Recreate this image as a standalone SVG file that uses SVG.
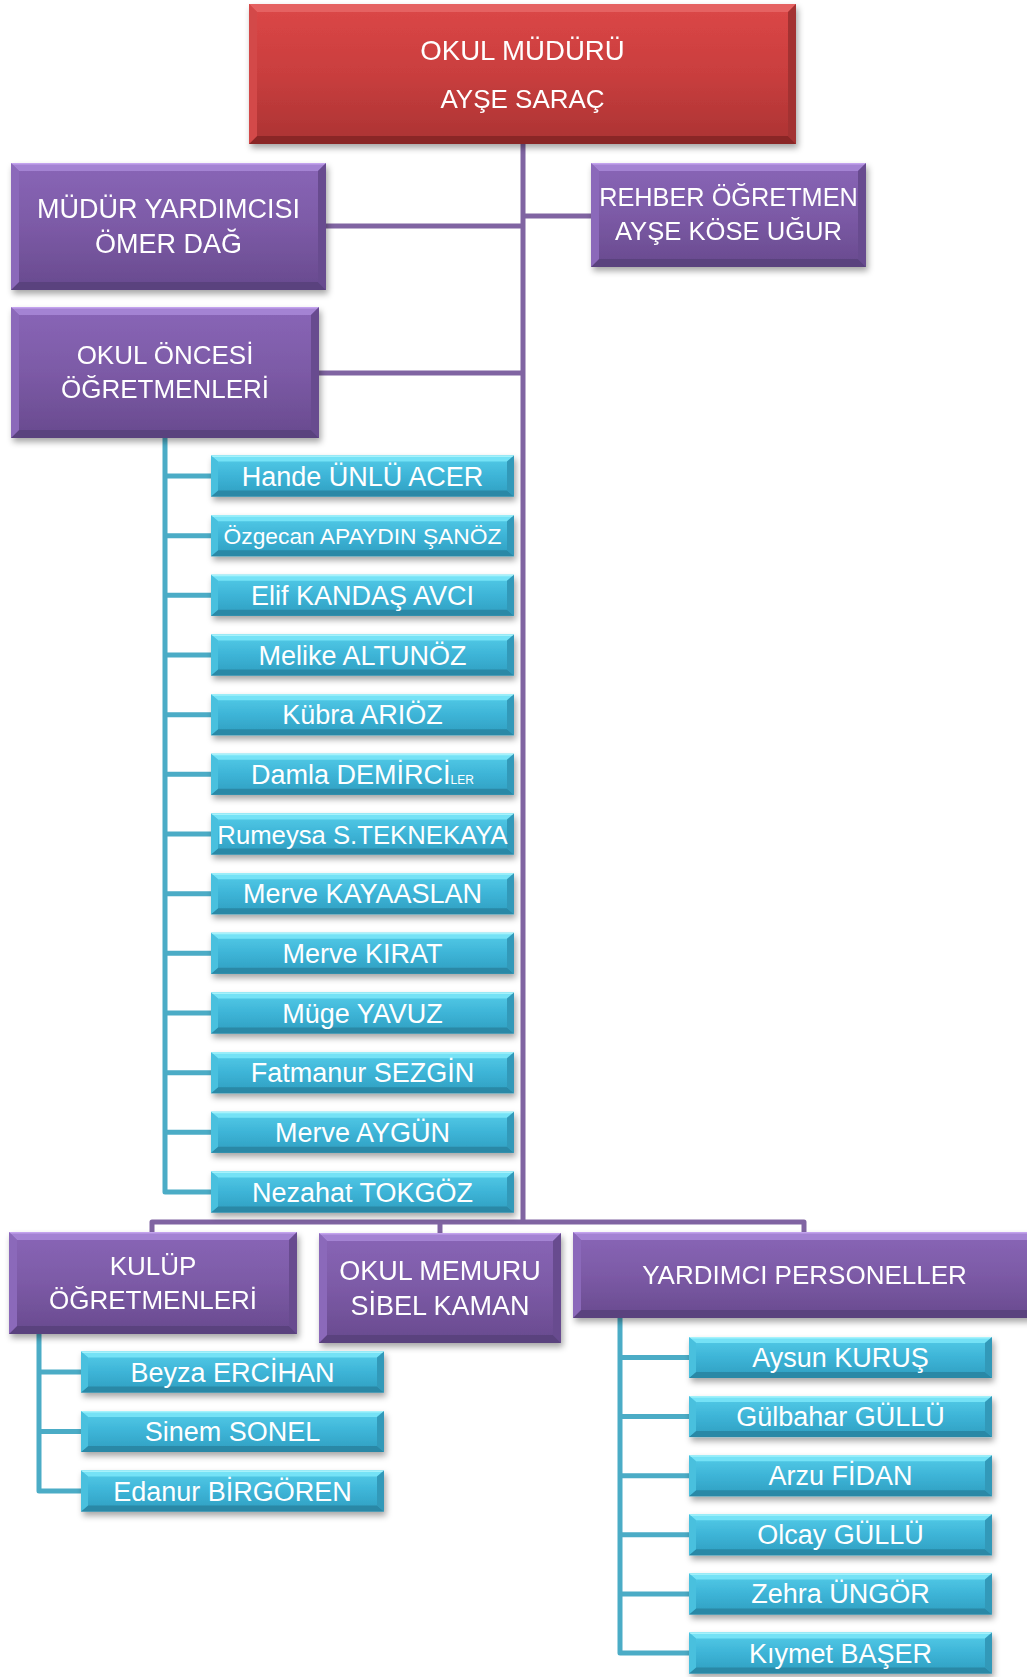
<svg xmlns="http://www.w3.org/2000/svg" xmlns:xlink="http://www.w3.org/1999/xlink" width="1027" height="1677" viewBox="0 0 1027 1677">
<style>
.pl{fill:none;stroke:#8064a2;stroke-width:5;stroke-linejoin:round}
.tl{fill:none;stroke:#4bacc6;stroke-width:5;stroke-linejoin:round}
text{font-family:"Liberation Sans",Arial,sans-serif;fill:#ffffff;text-anchor:middle}
.p{font-size:26px}
.t{font-size:27px}
.pb{fill:url(#pg)}
.pt{fill:#a483d3}
.ptl{fill:#c3a3ee}
.pbo{fill:#5a427e}
.pr{fill:#674b8f}
.plft{fill:#8b69ba}
.rb{fill:url(#rg)}
.rt{fill:#e56262}
.rbo{fill:#8a2828}
.rr{fill:#a33131}
.rl{fill:#d34848}
</style>
<defs>
<filter id="sh" x="-10%" y="-20%" width="120%" height="160%">
<feGaussianBlur in="SourceAlpha" stdDeviation="3"/>
<feOffset dx="2" dy="4" result="b"/>
<feFlood flood-color="#000" flood-opacity="0.35"/>
<feComposite in2="b" operator="in"/>
<feMerge><feMergeNode/><feMergeNode in="SourceGraphic"/></feMerge>
</filter>
<linearGradient id="tg" x1="0" y1="0" x2="0" y2="1">
<stop offset="0" stop-color="#55cce8"/>
<stop offset="0.5" stop-color="#3db4d7"/>
<stop offset="1" stop-color="#2f9ec0"/>
</linearGradient>
<linearGradient id="pg" x1="0" y1="0" x2="0" y2="1">
<stop offset="0" stop-color="#8966b7"/>
<stop offset="0.5" stop-color="#7c5aa6"/>
<stop offset="1" stop-color="#684a8e"/>
</linearGradient>
<linearGradient id="rg" x1="0" y1="0" x2="0" y2="1">
<stop offset="0" stop-color="#dc4747"/>
<stop offset="0.5" stop-color="#c93e3e"/>
<stop offset="1" stop-color="#ab3333"/>
</linearGradient>
<symbol id="tb" width="303" height="41" viewBox="0 0 303 41" overflow="visible">
<rect width="303" height="41" fill="url(#tg)"/>
<polygon points="0,0 303,0 296,6 7,6" fill="#74e2f6"/>
<rect width="303" height="1.5" fill="#a6f2fb"/>
<polygon points="0,41 303,41 296,35 7,35" fill="#2a88a6"/>
<polygon points="303,0 303,41 296,35 296,6" fill="#3399b9"/>
<polygon points="0,0 0,41 7,35 7,6" fill="#4ac0de"/>
</symbol>
</defs>

<g id="connectors">
<path class="pl" d="M523,144 V1222"/>
<path class="pl" d="M326,226 H523"/>
<path class="pl" d="M523,216 H591"/>
<path class="pl" d="M319,373 H523"/>
<path class="pl" d="M152,1233 V1222 H804 V1233"/>
<path class="pl" d="M440,1222 V1234"/>
<path class="tl" d="M165,438 V1192 H211"/>
<path class="tl" d="M165,476 H211 M165,535.7 H211 M165,595.3 H211 M165,655 H211 M165,714.7 H211 M165,774.3 H211 M165,834 H211 M165,893.7 H211 M165,953.3 H211 M165,1013 H211 M165,1072.7 H211 M165,1132.3 H211"/>
<path class="tl" d="M39,1334 V1491 H81 M39,1372 H81 M39,1431.5 H81"/>
<path class="tl" d="M620,1318 V1653 H689 M620,1357.5 H689 M620,1416.6 H689 M620,1475.7 H689 M620,1534.8 H689 M620,1593.9 H689"/>
</g>

<g id="mudur" filter="url(#sh)">
<rect class="rb" x="249" y="4" width="547" height="140"/>
<polygon class="rt" points="249,4 796,4 788,12 257,12"/>
<polygon class="rbo" points="249,144 796,144 788,136 257,136"/>
<polygon class="rr" points="796,4 796,144 788,136 788,12"/>
<polygon class="rl" points="249,4 249,144 257,136 257,12"/>
<text class="p" x="522.5" y="59.5" style="font-size:27.6px">OKUL MÜDÜRÜ</text>
<text class="p" x="522.5" y="107.5" style="font-size:26px">AYŞE SARAÇ</text>
</g>

<g id="mudur-yardimcisi" filter="url(#sh)">
<rect class="pb" x="11" y="163" width="315" height="127"/>
<polygon class="pt" points="11,163 326,163 318,171 19,171"/>
<rect class="ptl" x="11" y="163" width="315" height="1.5"/>
<polygon class="pbo" points="11,290 326,290 318,282 19,282"/>
<polygon class="pr" points="326,163 326,290 318,282 318,171"/>
<polygon class="plft" points="11,163 11,290 19,282 19,171"/>
<text class="p" x="168.5" y="218" style="font-size:27px">MÜDÜR YARDIMCISI</text>
<text class="p" x="168.5" y="253" style="font-size:27px">ÖMER DAĞ</text>
</g>

<g id="rehber" filter="url(#sh)">
<rect class="pb" x="591" y="163" width="275" height="104"/>
<polygon class="pt" points="591,163 866,163 858,171 599,171"/>
<rect class="ptl" x="591" y="163" width="275" height="1.5"/>
<polygon class="pbo" points="591,267 866,267 858,259 599,259"/>
<polygon class="pr" points="866,163 866,267 858,259 858,171"/>
<polygon class="plft" points="591,163 591,267 599,259 599,171"/>
<text class="p" x="728.5" y="206" style="font-size:25.3px">REHBER ÖĞRETMEN</text>
<text class="p" x="728.5" y="240" style="font-size:25.6px">AYŞE KÖSE UĞUR</text>
</g>

<g id="okul-oncesi" filter="url(#sh)">
<rect class="pb" x="11" y="307" width="308" height="131"/>
<polygon class="pt" points="11,307 319,307 311,315 19,315"/>
<rect class="ptl" x="11" y="307" width="308" height="1.5"/>
<polygon class="pbo" points="11,438 319,438 311,430 19,430"/>
<polygon class="pr" points="319,307 319,438 311,430 311,315"/>
<polygon class="plft" points="11,307 11,438 19,430 19,315"/>
<text class="p" x="165" y="364">OKUL ÖNCESİ</text>
<text class="p" x="165" y="398">ÖĞRETMENLERİ</text>
</g>

<g id="t1"><use href="#tb" xlink:href="#tb" x="211" y="455.5" filter="url(#sh)"/><text class="t" x="362.5" y="485.5">Hande ÜNLÜ ACER</text></g>
<g id="t2"><use href="#tb" xlink:href="#tb" x="211" y="515.2" filter="url(#sh)"/><text class="t" x="362.5" y="543.5" style="font-size:22.8px">Özgecan APAYDIN ŞANÖZ</text></g>
<g id="t3"><use href="#tb" xlink:href="#tb" x="211" y="574.8" filter="url(#sh)"/><text class="t" x="362.5" y="604.8">Elif KANDAŞ AVCI</text></g>
<g id="t4"><use href="#tb" xlink:href="#tb" x="211" y="634.5" filter="url(#sh)"/><text class="t" x="362.5" y="664.5">Melike ALTUNÖZ</text></g>
<g id="t5"><use href="#tb" xlink:href="#tb" x="211" y="694.2" filter="url(#sh)"/><text class="t" x="362.5" y="724.2">Kübra ARIÖZ</text></g>
<g id="t6"><use href="#tb" xlink:href="#tb" x="211" y="753.8" filter="url(#sh)"/><text class="t" x="362.5" y="783.8">Damla DEMİRCİ<tspan style="font-size:12px">LER</tspan></text></g>
<g id="t7"><use href="#tb" xlink:href="#tb" x="211" y="813.5" filter="url(#sh)"/><text class="t" x="362.5" y="843.5" style="font-size:25.7px">Rumeysa S.TEKNEKAYA</text></g>
<g id="t8"><use href="#tb" xlink:href="#tb" x="211" y="873.2" filter="url(#sh)"/><text class="t" x="362.5" y="903.2">Merve KAYAASLAN</text></g>
<g id="t9"><use href="#tb" xlink:href="#tb" x="211" y="932.8" filter="url(#sh)"/><text class="t" x="362.5" y="962.8">Merve KIRAT</text></g>
<g id="t10"><use href="#tb" xlink:href="#tb" x="211" y="992.5" filter="url(#sh)"/><text class="t" x="362.5" y="1022.5">Müge YAVUZ</text></g>
<g id="t11"><use href="#tb" xlink:href="#tb" x="211" y="1052.2" filter="url(#sh)"/><text class="t" x="362.5" y="1082.2">Fatmanur SEZGİN</text></g>
<g id="t12"><use href="#tb" xlink:href="#tb" x="211" y="1111.8" filter="url(#sh)"/><text class="t" x="362.5" y="1141.8">Merve AYGÜN</text></g>
<g id="t13"><use href="#tb" xlink:href="#tb" x="211" y="1171.5" filter="url(#sh)"/><text class="t" x="362.5" y="1201.5">Nezahat TOKGÖZ</text></g>

<g id="kulup" filter="url(#sh)">
<rect class="pb" x="9" y="1232" width="288" height="102"/>
<polygon class="pt" points="9,1232 297,1232 289,1240 17,1240"/>
<rect class="ptl" x="9" y="1232" width="288" height="1.5"/>
<polygon class="pbo" points="9,1334 297,1334 289,1326 17,1326"/>
<polygon class="pr" points="297,1232 297,1334 289,1326 289,1240"/>
<polygon class="plft" points="9,1232 9,1334 17,1326 17,1240"/>
<text class="p" x="153" y="1275">KULÜP</text>
<text class="p" x="153" y="1309">ÖĞRETMENLERİ</text>
</g>

<g id="memur" filter="url(#sh)">
<rect class="pb" x="319" y="1233" width="242" height="110"/>
<polygon class="pt" points="319,1233 561,1233 553,1241 327,1241"/>
<rect class="ptl" x="319" y="1233" width="242" height="1.5"/>
<polygon class="pbo" points="319,1343 561,1343 553,1335 327,1335"/>
<polygon class="pr" points="561,1233 561,1343 553,1335 553,1241"/>
<polygon class="plft" points="319,1233 319,1343 327,1335 327,1241"/>
<text class="p" x="440" y="1280" style="font-size:27px">OKUL MEMURU</text>
<text class="p" x="440" y="1315" style="font-size:27px">SİBEL KAMAN</text>
</g>

<g id="yardimci" filter="url(#sh)">
<rect class="pb" x="573" y="1232" width="470" height="86"/>
<polygon class="pt" points="573,1232 1043,1232 1035,1240 581,1240"/>
<rect class="ptl" x="573" y="1232" width="470" height="1.5"/>
<polygon class="pbo" points="573,1318 1043,1318 1035,1310 581,1310"/>
<polygon class="plft" points="573,1232 573,1318 581,1310 581,1240"/>
<text class="p" x="804.5" y="1284">YARDIMCI PERSONELLER</text>
</g>

<g id="k1"><use href="#tb" xlink:href="#tb" x="81" y="1351.5" filter="url(#sh)"/><text class="t" x="232.5" y="1381.5">Beyza ERCİHAN</text></g>
<g id="k2"><use href="#tb" xlink:href="#tb" x="81" y="1411" filter="url(#sh)"/><text class="t" x="232.5" y="1441">Sinem SONEL</text></g>
<g id="k3"><use href="#tb" xlink:href="#tb" x="81" y="1470.5" filter="url(#sh)"/><text class="t" x="232.5" y="1500.5">Edanur BİRGÖREN</text></g>

<g id="y1"><use href="#tb" xlink:href="#tb" x="689" y="1337" filter="url(#sh)"/><text class="t" x="840.5" y="1367">Aysun KURUŞ</text></g>
<g id="y2"><use href="#tb" xlink:href="#tb" x="689" y="1396.1" filter="url(#sh)"/><text class="t" x="840.5" y="1426.1">Gülbahar GÜLLÜ</text></g>
<g id="y3"><use href="#tb" xlink:href="#tb" x="689" y="1455.2" filter="url(#sh)"/><text class="t" x="840.5" y="1485.2">Arzu FİDAN</text></g>
<g id="y4"><use href="#tb" xlink:href="#tb" x="689" y="1514.3" filter="url(#sh)"/><text class="t" x="840.5" y="1544.3">Olcay GÜLLÜ</text></g>
<g id="y5"><use href="#tb" xlink:href="#tb" x="689" y="1573.4" filter="url(#sh)"/><text class="t" x="840.5" y="1603.4">Zehra ÜNGÖR</text></g>
<g id="y6"><use href="#tb" xlink:href="#tb" x="689" y="1632.5" filter="url(#sh)"/><text class="t" x="840.5" y="1662.5">Kıymet BAŞER</text></g>
</svg>
